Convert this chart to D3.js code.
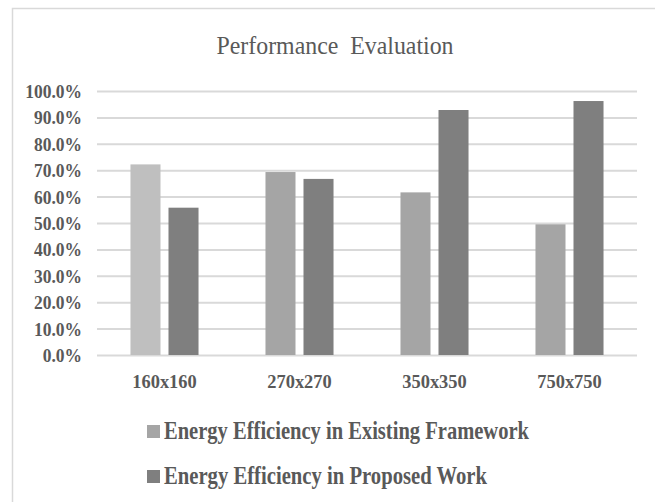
<!DOCTYPE html>
<html>
<head>
<meta charset="utf-8">
<script src="https://cdn.jsdelivr.net/npm/d3@7/dist/d3.min.js"></script>
<style>
  html, body { margin: 0; padding: 0; background: #fff; }
  svg { display: block; }
  text { font-family: "Liberation Serif", "DejaVu Serif", serif; fill: #595959; }
</style>
</head>
<body>
<svg id="chart" width="655" height="502"></svg>
<script>
// Chart content
const chartTitle = "Performance  Evaluation";
const categories = ["160x160", "270x270", "350x350", "750x750"];
const seriesNames = ["Energy Efficiency in Existing Framework", "Energy Efficiency in Proposed Work"];
const existingValues = [0.722, 0.693, 0.616, 0.495];
const proposedValues = [0.558, 0.667, 0.928, 0.962];
const yTicks = [0, 0.1, 0.2, 0.3, 0.4, 0.5, 0.6, 0.7, 0.8, 0.9, 1.0];

const seriesColors = ["#a5a5a5", "#7f7f7f"];
const firstPointColor = "#bfbfbf";

const svg = d3.select("#chart");

// outer chart frame
svg.append("rect")
  .attr("x", 12.5).attr("y", 8.5)
  .attr("width", 700).attr("height", 600)
  .attr("fill", "#fff").attr("stroke", "#d9d9d9").attr("stroke-width", 1.5);

const plot = { left: 97, right: 637, top: 91, bottom: 355 };

const x0 = d3.scaleBand()
  .domain(categories)
  .range([plot.left, plot.right])
  .paddingInner(0.496)
  .paddingOuter(0.248);

const x1 = d3.scaleBand()
  .domain(seriesNames)
  .range([0, x0.bandwidth()])
  .paddingInner(0.2105)
  .paddingOuter(0);

const y = d3.scaleLinear().domain([0, 1]).range([plot.bottom, plot.top]);

// horizontal gridlines + value axis labels
const yAxis = d3.axisLeft(y)
  .tickValues(yTicks)
  .tickFormat(d3.format(".1%"))
  .tickSize(-(plot.right - plot.left))
  .tickPadding(15);

const gy = svg.append("g")
  .attr("transform", `translate(${plot.left},0)`)
  .call(yAxis);
gy.select(".domain").remove();
gy.selectAll(".tick line").attr("stroke", "#d9d9d9").attr("stroke-width", 2);
gy.selectAll(".tick text")
  .attr("font-family", "Liberation Serif")
  .attr("font-size", 19)
  .attr("font-weight", "bold")
  .attr("fill", "#595959")
  .attr("dy", "0.34em")
  .each(function () {
    const w = this.getComputedTextLength();
    d3.select(this).attr("textLength", w * 0.92).attr("lengthAdjust", "spacingAndGlyphs");
  });

// bars
const rows = categories.map((c, i) => ({ cat: c, values: [existingValues[i], proposedValues[i]] }));

const groups = svg.append("g").selectAll("g")
  .data(rows)
  .join("g")
  .attr("transform", d => `translate(${x0(d.cat)},0)`);

groups.selectAll("rect")
  .data((d, ci) => d.values.map((v, si) => ({ v, si, ci })))
  .join("rect")
  .attr("x", d => x1(seriesNames[d.si]))
  .attr("width", x1.bandwidth())
  .attr("y", d => y(d.v))
  .attr("height", d => y(0) - y(d.v))
  .attr("fill", d => (d.si === 0 && d.ci === 0) ? firstPointColor : seriesColors[d.si]);

// category axis
const xAxis = d3.axisBottom(x0).tickSize(0).tickPadding(20);
const gx = svg.append("g")
  .attr("transform", `translate(0,${plot.bottom})`)
  .call(xAxis);
gx.select(".domain").remove();
gx.selectAll(".tick text")
  .attr("font-family", "Liberation Serif")
  .attr("font-size", 19)
  .attr("font-weight", "bold")
  .attr("fill", "#595959")
  .attr("dy", "0.71em")
  .each(function () {
    const w = this.getComputedTextLength();
    d3.select(this).attr("textLength", w * 0.97).attr("lengthAdjust", "spacingAndGlyphs");
  });

// title
svg.append("text")
  .attr("x", 335).attr("y", 54)
  .attr("text-anchor", "middle")
  .attr("font-size", 26)
  .attr("textLength", 237)
  .attr("lengthAdjust", "spacingAndGlyphs")
  .style("white-space", "pre")
  .text(chartTitle);

// legend
const legendWidths = [365, 323];
const legend = svg.append("g").selectAll("g")
  .data(seriesNames)
  .join("g")
  .attr("transform", (d, i) => `translate(147,${425 + i * 45})`);

legend.append("rect")
  .attr("width", 13).attr("height", 13)
  .attr("fill", (d, i) => seriesColors[i]);

legend.append("text")
  .attr("x", 17).attr("y", 14)
  .attr("font-size", 25)
  .attr("font-weight", "bold")
  .attr("textLength", (d, i) => legendWidths[i])
  .attr("lengthAdjust", "spacingAndGlyphs")
  .text(d => d);
</script>
</body>
</html>
